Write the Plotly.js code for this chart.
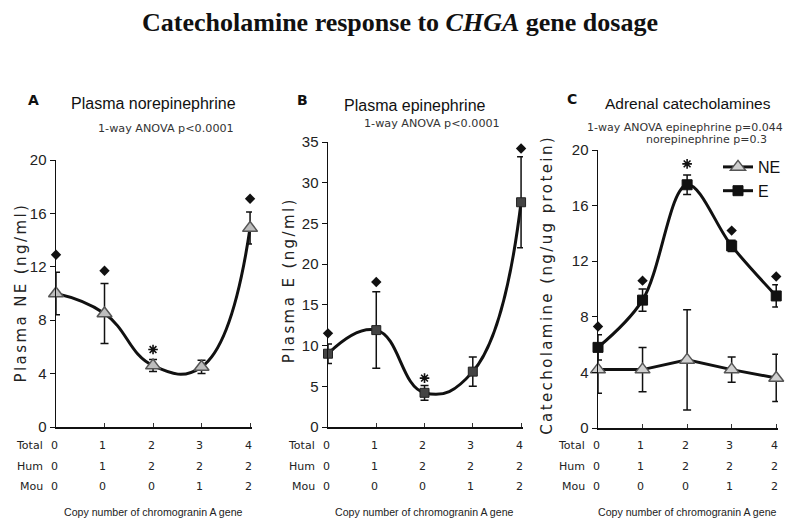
<!DOCTYPE html>
<html>
<head>
<meta charset="utf-8">
<script src="https://cdn.plot.ly/plotly-3.0.1.min.js"></script>
<style>
  body { margin: 0; background: #fff; }
  #chart { width: 800px; height: 532px; }
  .annotation[data-index="0"] text,
  .annotation[data-index="1"] text,
  .annotation[data-index="2"] text { letter-spacing: 2.4px; }
</style>
</head>
<body>
<div id="chart"></div>
<script>
// ---- Data ----
const copyIndex = [0, 1, 2, 3, 4];
const totalCopies = [0, 1, 2, 3, 4];
const humCopies = [0, 1, 2, 2, 2];
const mouCopies = [0, 0, 0, 1, 2];

// Panel A: plasma norepinephrine (ng/ml)
const plasmaNE = [10.0, 8.5, 4.6, 4.5, 14.9];
const plasmaNEerr = [1.6, 2.25, 0.45, 0.5, 1.2];
const plasmaNEdiamond = [12.9, 11.7, null, null, 17.1];
const plasmaNEstar = [null, null, 5.8, null, null];

// Panel B: plasma epinephrine (ng/ml)
const plasmaE = [9.0, 11.9, 4.2, 6.8, 27.6];
const plasmaEerr = [1.2, 4.7, 0.9, 1.8, 5.6];
const plasmaEdiamond = [11.5, 17.8, null, null, 34.2];
const plasmaEstar = [null, null, 6.0, null, null];

// Panel C: adrenal catecholamines (ng/ug protein)
const adrenalNE = [4.2, 4.2, 4.9, 4.2, 3.6];
const adrenalNEerr = [1.7, 1.6, 3.6, 0.9, 1.7];
const adrenalE = [5.8, 9.2, 17.5, 13.1, 9.5];
const adrenalEerr = [0.9, 0.8, 0.7, 0.4, 0.8];
const adrenalEdiamond = [7.3, 10.6, null, 14.2, 10.9];
const adrenalEstar = [null, null, 19.0, null, null];

const rowLabels = ['Total', 'Hum', 'Mou'];
const rowValues = [totalCopies, humCopies, mouCopies];
const yTitles = ['Plasma NE (ng/ml)', 'Plasma E (ng/ml)', 'Catecholamine (ng/ug protein)'];

// ---- Styling helpers ----
const NARROW = '"Liberation Sans", Arial, sans-serif';
const WIDE = '"DejaVu Sans", Verdana, sans-serif';
const SERIF = '"Liberation Serif", "Times New Roman", serif';
const W = 800, H = 532;
const px = v => v / W;
const py = v => 1 - v / H;

function errBar(arr) {
  return { type: 'data', array: arr, visible: true, color: '#111', thickness: 1.5, width: 4 };
}
function sigTraces(xa, ya, dia, star) {
  return [
    { x: copyIndex, y: dia, xaxis: xa, yaxis: ya, mode: 'markers', type: 'scatter', showlegend: false,
      cliponaxis: false, marker: { symbol: 'diamond', size: 8, color: '#111' }, hoverinfo: 'skip' },
    { x: copyIndex, y: star, xaxis: xa, yaxis: ya, mode: 'markers', type: 'scatter', showlegend: false,
      cliponaxis: false, marker: { symbol: 'asterisk-open', size: 8, color: '#111', line: { color: '#111', width: 1.6 } }, hoverinfo: 'skip' }
  ];
}

const traces = [
  // Panel A
  { x: copyIndex, y: plasmaNE, xaxis: 'x', yaxis: 'y', type: 'scatter', mode: 'lines+markers', showlegend: false,
    cliponaxis: false, error_y: errBar(plasmaNEerr),
    line: { shape: 'spline', smoothing: 1.3, color: '#111', width: 3 },
    marker: { symbol: 'triangle-up', size: 13, color: '#bdbdbd', line: { color: '#555', width: 1.5 } } },
  ...sigTraces('x', 'y', plasmaNEdiamond, plasmaNEstar),
  // Panel B
  { x: copyIndex, y: plasmaE, xaxis: 'x2', yaxis: 'y2', type: 'scatter', mode: 'lines+markers', showlegend: false,
    cliponaxis: false, error_y: errBar(plasmaEerr),
    line: { shape: 'spline', smoothing: 1.3, color: '#111', width: 3 },
    marker: { symbol: 'square', size: 9, color: '#444', line: { color: '#222', width: 1 } } },
  ...sigTraces('x2', 'y2', plasmaEdiamond, plasmaEstar),
  // Panel C
  { x: copyIndex, y: adrenalNE, xaxis: 'x3', yaxis: 'y3', type: 'scatter', mode: 'lines+markers', name: 'NE',
    cliponaxis: false, error_y: errBar(adrenalNEerr),
    line: { color: '#111', width: 3 },
    marker: { symbol: 'triangle-up', size: 13, color: '#cfcfcf', line: { color: '#555', width: 1.5 } } },
  { x: copyIndex, y: adrenalE, xaxis: 'x3', yaxis: 'y3', type: 'scatter', mode: 'lines+markers', name: 'E',
    cliponaxis: false, error_y: errBar(adrenalEerr),
    line: { shape: 'spline', smoothing: 1.0, color: '#111', width: 3 },
    marker: { symbol: 'square', size: 10, color: '#111', line: { color: '#111', width: 1 } } },
  ...sigTraces('x3', 'y3', adrenalEdiamond, adrenalEstar)
];

function xAxis(d0, d1, anchor) {
  return { domain: [px(d0), px(d1)], range: [0, 4.04], anchor: anchor, showgrid: false, zeroline: false,
    showline: true, linecolor: '#111', linewidth: 1.5, ticks: 'inside', ticklen: 4, tickcolor: '#333',
    tickvals: copyIndex, showticklabels: false, fixedrange: true };
}
function yAxis(t0, t1, anchor, max, dtick) {
  return { domain: [py(t1), py(t0)], range: [0, max], anchor: anchor, showgrid: false, zeroline: false,
    showline: true, linecolor: '#111', linewidth: 1.5, ticks: 'outside', ticklen: 5, tickcolor: '#111',
    dtick: dtick, tick0: 0, tickfont: { family: NARROW, size: 15, color: '#222' }, fixedrange: true };
}

const annotations = [];
function addText(text, x, y, font, extra) {
  annotations.push(Object.assign({ text: text, x: px(x), y: py(y), xref: 'paper', yref: 'paper',
    showarrow: false, font: font, xanchor: 'center', yanchor: 'middle' }, extra || {}));
}
// Y-axis titles (indices 0-2, letter-spaced by the stylesheet)
const yTitlePos = [[21, 293], [289, 280], [547, 285]];
yTitles.forEach(function (t, i) {
  addText(t, yTitlePos[i][0], yTitlePos[i][1], { family: WIDE, size: 15, color: '#222' }, { textangle: -90 });
});
// Panel letters and titles
addText('<b>A</b>', 33, 100, { family: WIDE, size: 14, color: '#111' });
addText('<b>B</b>', 302, 100, { family: WIDE, size: 14, color: '#111' });
addText('<b>C</b>', 572, 99, { family: WIDE, size: 14, color: '#111' });
addText('Plasma norepinephrine', 153, 103, { family: NARROW, size: 16, color: '#111' });
addText('Plasma epinephrine', 415, 105, { family: NARROW, size: 16, color: '#111' });
addText('Adrenal catecholamines', 688, 103, { family: NARROW, size: 15.5, color: '#111' });
addText('1-way ANOVA p<0.0001', 166, 128, { family: WIDE, size: 11.2, color: '#333' });
addText('1-way ANOVA p<0.0001', 432, 124, { family: WIDE, size: 11.2, color: '#333' });
addText('1-way ANOVA epinephrine p=0.044', 685, 127, { family: WIDE, size: 11, color: '#333' });
addText('norepinephrine p=0.3', 706, 140, { family: WIDE, size: 11, color: '#333' });

// Copy-number rows beneath each panel
const rowY = [445, 466, 486];
['x', 'x2', 'x3'].forEach(function (xa) {
  rowLabels.forEach(function (lab, r) {
    annotations.push({ text: lab, x: 0, xref: xa, xshift: -11, xanchor: 'right', y: py(rowY[r]), yref: 'paper',
      yanchor: 'middle', showarrow: false, font: { family: WIDE, size: 11, color: '#222' } });
    copyIndex.forEach(function (ci, i) {
      annotations.push({ text: String(rowValues[r][i]), x: ci, xref: xa, xshift: -2, xanchor: 'center', y: py(rowY[r]),
        yref: 'paper', yanchor: 'middle', showarrow: false, font: { family: WIDE, size: 11, color: '#222' } });
    });
  });
  annotations.push({ text: 'Copy number of chromogranin A gene', x: 2, xref: xa, xanchor: 'center', y: py(512),
    yref: 'paper', yanchor: 'middle', showarrow: false, font: { family: NARROW, size: 10.6, color: '#222' } });
});

const layout = {
  width: W, height: H,
  margin: { l: 0, r: 0, t: 0, b: 0 },
  paper_bgcolor: '#fff', plot_bgcolor: '#fff',
  title: { text: 'Catecholamine response to <i>CHGA</i> gene dosage', x: 0.5, xanchor: 'center',
    y: py(22), yanchor: 'middle', yref: 'container',
    font: { family: SERIF, size: 26, weight: 'bold', color: '#111' } },
  xaxis: xAxis(56, 252, 'y'),
  yaxis: yAxis(160, 427, 'x', 20, 4),
  xaxis2: xAxis(328, 523, 'y2'),
  yaxis2: yAxis(142, 427, 'x2', 35, 5),
  xaxis3: xAxis(598, 778, 'y3'),
  yaxis3: yAxis(150, 428, 'x3', 20, 4),
  showlegend: true,
  legend: { x: px(718), y: py(150), xanchor: 'left', yanchor: 'top', bgcolor: 'rgba(0,0,0,0)',
    font: { family: NARROW, size: 16, color: '#111' }, tracegroupgap: 0, itemwidth: 30 },
  annotations: annotations
};

Plotly.newPlot('chart', traces, layout, { displayModeBar: false, staticPlot: true });
</script>
</body>
</html>
